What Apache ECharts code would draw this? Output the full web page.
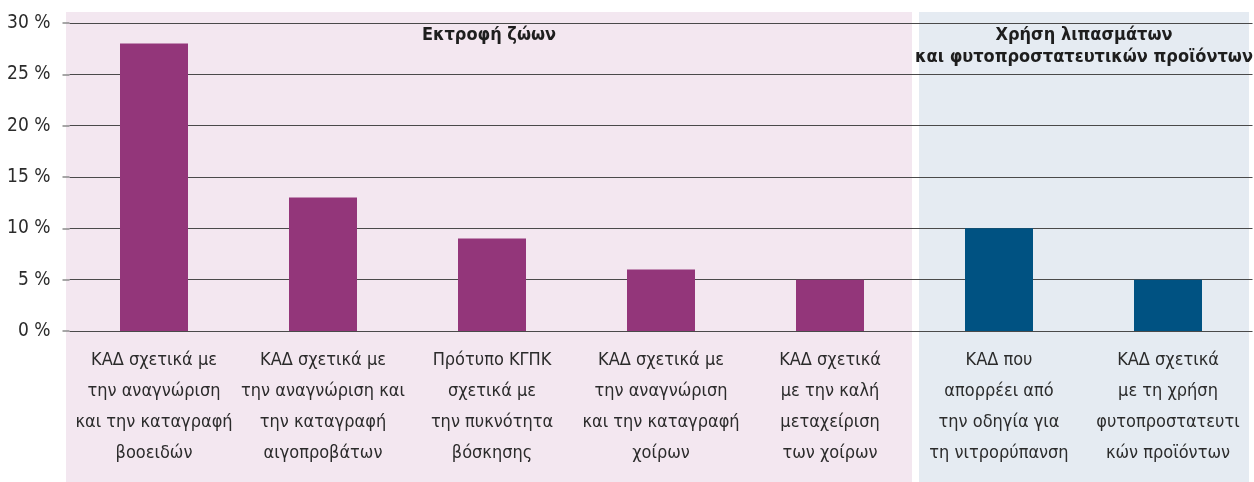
<!DOCTYPE html>
<html>
<head>
<meta charset="utf-8">
<script src="https://cdn.jsdelivr.net/npm/echarts@6/dist/echarts.min.js"></script>
<style>
  html, body { margin: 0; padding: 0; background: #fff; }
  #chart { width: 1254px; height: 482px; }
</style>
</head>
<body>
<div id="chart"></div>
<script>
// data
const categories = [
  'ΚΑΔ σχετικά με\nτην αναγνώριση\nκαι την καταγραφή\nβοοειδών',
  'ΚΑΔ σχετικά με\nτην αναγνώριση και\nτην καταγραφή\nαιγοπροβάτων',
  'Πρότυπο ΚΓΠΚ\nσχετικά με\nτην πυκνότητα\nβόσκησης',
  'ΚΑΔ σχετικά με\nτην αναγνώριση\nκαι την καταγραφή\nχοίρων',
  'ΚΑΔ σχετικά\nμε την καλή\nμεταχείριση\nτων χοίρων',
  'ΚΑΔ που\nαπορρέει από\nτην οδηγία για\nτη νιτρορύπανση',
  'ΚΑΔ σχετικά\nμε τη χρήση\nφυτοπροστατευτι\nκών προϊόντων'
];
const values = [28, 13, 9, 6, 5, 10, 5];
const groupTitles = ['Εκτροφή ζώων', 'Χρήση λιπασμάτων\nκαι φυτοπροστατευτικών προϊόντων'];
const groupSizes = [5, 2];
const yTicks = [0, 5, 10, 15, 20, 25, 30];

const barColors = ['#93367a', '#005282'];
const bandColors = ['#f3e7f0', '#e5ebf2'];
const FONT = '"Liberation Sans Narrow", "DejaVu Sans Condensed", sans-serif';

function groupOf(idx) {
  let acc = 0;
  for (let g = 0; g < groupSizes.length; g++) {
    acc += groupSizes[g];
    if (idx < acc) return g;
  }
  return groupSizes.length - 1;
}

const chart = echarts.init(document.getElementById('chart'));

chart.setOption({
  animation: false,
  grid: { left: 69.5, right: 1.5, top: 23, bottom: 151, containLabel: false },
  xAxis: {
    type: 'category',
    data: categories,
    axisLine: { show: false },
    axisTick: { show: false },
    axisLabel: {
      interval: 0,
      margin: 14,
      fontFamily: FONT,
      fontSize: 18,
      lineHeight: 31,
      color: '#2b2b2b',
      verticalAlign: 'top'
    }
  },
  yAxis: {
    type: 'value',
    min: yTicks[0],
    max: yTicks[yTicks.length - 1],
    interval: 5,
    axisLine: { show: false },
    axisTick: { show: true, length: 7, lineStyle: { color: '#8a8a8a', width: 1.5 } },
    splitLine: { lineStyle: { color: '#4a4a4a', width: 1.2 } },
    axisLabel: {
      margin: 19,
      fontFamily: FONT,
      fontSize: 19,
      color: '#2b2b2b',
      formatter: '{value} %'
    }
  },
  series: [{
    type: 'bar',
    barWidth: 68,
    data: values.map((v, i) => ({
      value: v,
      itemStyle: { color: barColors[groupOf(i)] }
    }))
  }]
});

// background bands and group titles, placed from the category axis
function drawBands() {
  const c0 = chart.convertToPixel({ xAxisIndex: 0 }, 0);
  const c1 = chart.convertToPixel({ xAxisIndex: 0 }, 1);
  const band = c1 - c0;
  const elements = [];
  let start = 0;
  groupSizes.forEach((n, g) => {
    const first = chart.convertToPixel({ xAxisIndex: 0 }, start);
    const last = chart.convertToPixel({ xAxisIndex: 0 }, start + n - 1);
    const left = first - band / 2 + (g === 0 ? -3.5 : 4.5);
    const right = last + band / 2 - (g === 0 ? 2.5 : 3.5);
    elements.push({
      type: 'rect',
      z: -10,
      silent: true,
      shape: { x: left, y: 12, width: right - left, height: 482 - 12 },
      style: { fill: bandColors[g] }
    });
    elements.push({
      type: 'text',
      z: 10,
      silent: true,
      x: (left + right) / 2,
      y: 24,
      style: {
        text: groupTitles[g],
        fontFamily: FONT,
        fontWeight: 'bold',
        fontSize: 18,
        lineHeight: 22,
        fill: '#1e1e1e',
        align: 'center',
        verticalAlign: 'top'
      }
    });
    start += n;
  });
  chart.setOption({ graphic: { elements: elements } });
}
drawBands();
</script>
</body>
</html>
